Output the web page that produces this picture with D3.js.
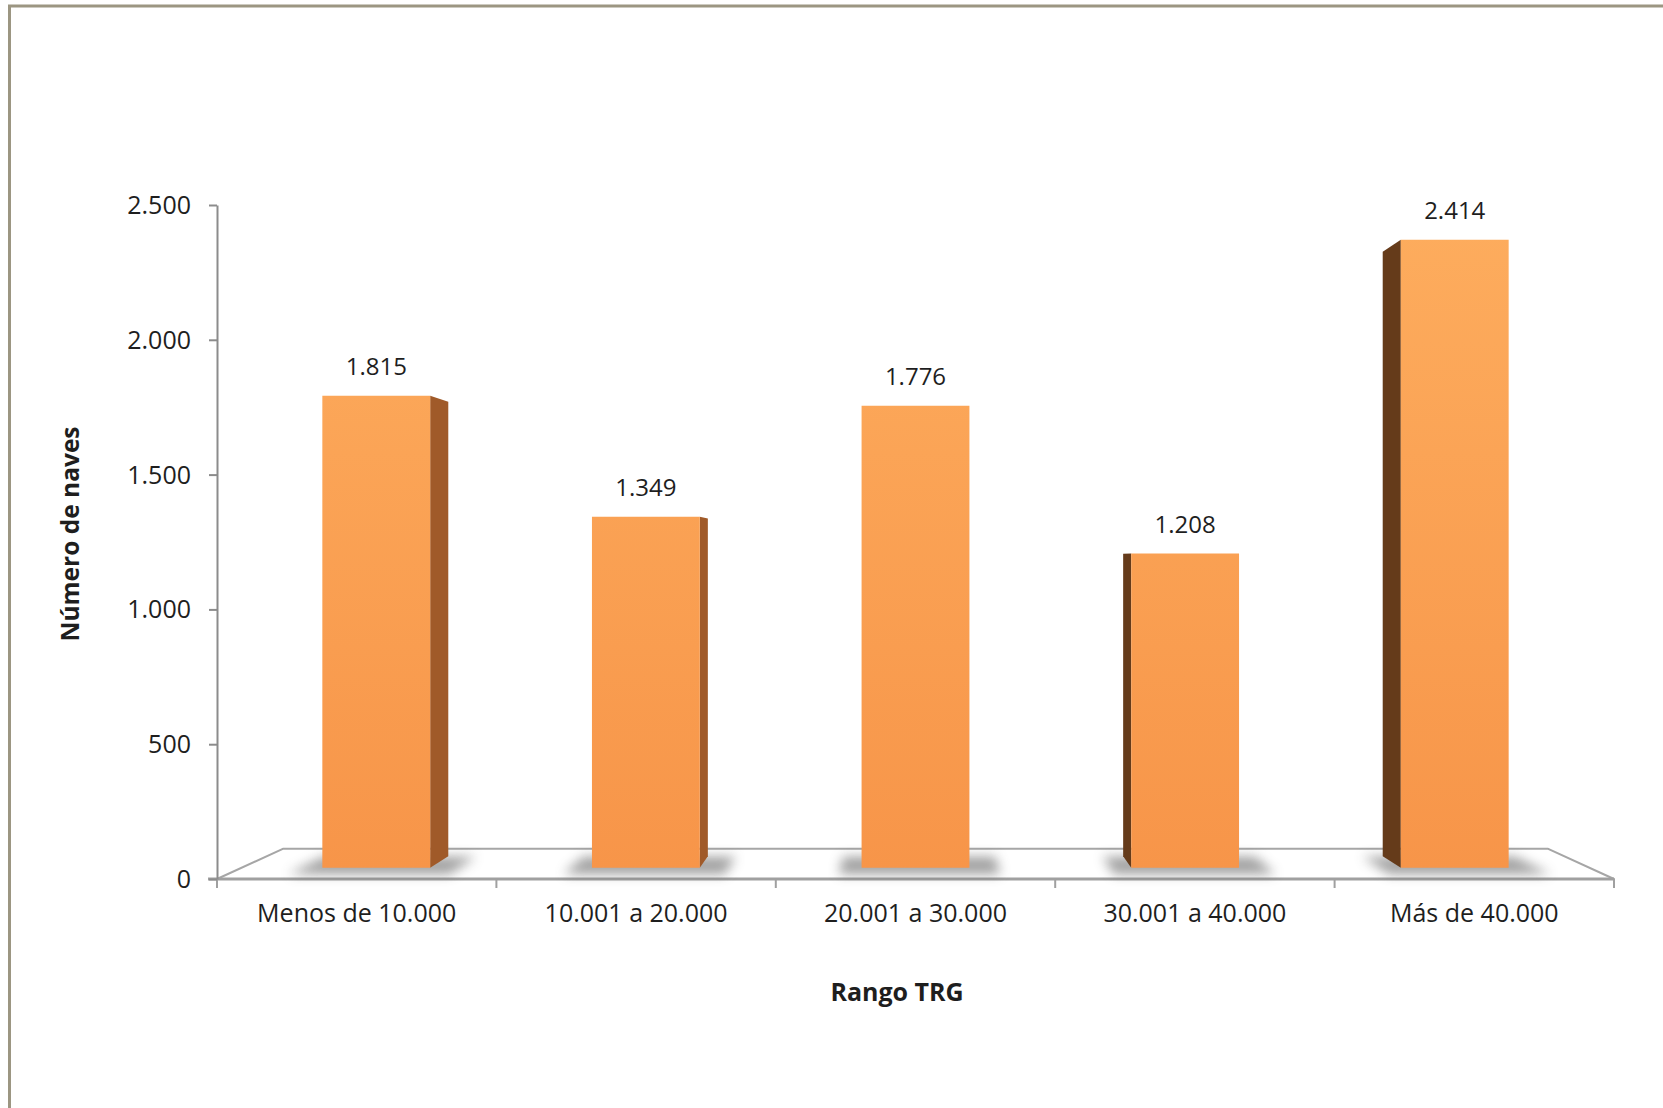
<!DOCTYPE html>
<html>
<head>
<meta charset="utf-8">
<script src="https://cdn.jsdelivr.net/npm/d3@7"></script>
<style>
  html, body { margin: 0; padding: 0; background: #ffffff; overflow: hidden; }
  svg { display: block; }
  text { font-family: "Open Sans", "DejaVu Sans", sans-serif; fill: #1e1e1e; }
</style>
</head>
<body>
<svg id="chart" width="1663" height="1108"></svg>
<script>
// ---- data ----
const categories = ["Menos de 10.000", "10.001 a 20.000", "20.001 a 30.000", "30.001 a 40.000", "Más de 40.000"];
const values = [1815, 1349, 1776, 1208, 2414];
const yTicks = [0, 500, 1000, 1500, 2000, 2500];
const yTitle = "Número de naves";
const xTitle = "Rango TRG";

// ---- setup ----
const svg = d3.select("#chart");
const W = 1663, H = 1108;
const esLocale = d3.formatLocale({ decimal: ",", thousands: ".", grouping: [3], currency: ["", " €"] });
const fmt = esLocale.format(",d");

// outer frame
svg.append("rect")
  .attr("x", 9.5).attr("y", 6).attr("width", W + 20).attr("height", H + 20)
  .attr("fill", "none").attr("stroke", "#9c9682").attr("stroke-width", 3);

const x = d3.scaleBand().domain(categories).range([217, 1614]).paddingInner(0.6).paddingOuter(0.3);
const y = d3.scaleLinear().domain([0, 2500]).range([879, 205]);

// simple perspective projection toward a vanishing point
const VP = [(x.range()[0] + x.range()[1]) / 2, 560];
const S_BAR_FRONT = 0.965, S_BAR_BACK = 0.929, S_FLOOR_BACK = 0.905;
const proj = (xw, yw, s) => [VP[0] + (xw - VP[0]) * s, VP[1] + (yw - VP[1]) * s];
const poly = pts => pts.map(p => p.join(",")).join(" ");

const defs = svg.append("defs");
const grad = defs.append("linearGradient").attr("id", "frontGrad")
  .attr("gradientUnits", "userSpaceOnUse").attr("x1", 0).attr("x2", 0).attr("y1", 230).attr("y2", 870);
grad.append("stop").attr("offset", "0%").attr("stop-color", "#fdac5d");
grad.append("stop").attr("offset", "100%").attr("stop-color", "#f79549");
defs.append("filter").attr("id", "blur").attr("x", "-50%").attr("y", "-100%").attr("width", "200%").attr("height", "300%")
  .append("feGaussianBlur").attr("stdDeviation", 6);

// floor
const x0 = x.range()[0], x1 = x.range()[1], y0 = y(0);
const floorPts = [proj(x0, y0, 1), proj(x1, y0, 1), proj(x1, y0, S_FLOOR_BACK), proj(x0, y0, S_FLOOR_BACK)];
svg.append("polygon").attr("points", poly(floorPts))
  .attr("fill", "#ffffff").attr("stroke", "#a6a6a6").attr("stroke-width", 2).attr("stroke-linejoin", "round");
svg.append("line").attr("x1", 208).attr("x2", x1).attr("y1", y0).attr("y2", y0)
  .attr("stroke", "#a0a0a0").attr("stroke-width", 3);

// x-axis boundary ticks
const step = x.step();
const bounds = d3.range(categories.length + 1).map(i => x0 + i * step);
svg.selectAll("line.xtick").data(bounds).join("line").attr("class", "xtick")
  .attr("x1", d => d).attr("x2", d => d).attr("y1", y0).attr("y2", y0 + 9)
  .attr("stroke", "#a0a0a0").attr("stroke-width", 2);

// y axis
const yAxis = svg.append("g").attr("transform", `translate(${x0},0)`)
  .call(d3.axisLeft(y).tickValues(yTicks).tickFormat(fmt).tickSize(8).tickSizeOuter(0).tickPadding(18));
yAxis.select(".domain").attr("stroke", "#8c8c8c").attr("stroke-width", 2);
yAxis.selectAll(".tick line").attr("stroke", "#8c8c8c").attr("stroke-width", 2);
yAxis.selectAll(".tick text").attr("font-size", 25).attr("font-family", "Open Sans").attr("fill", "#1e1e1e")
  .attr("dy", "0.34em");

// bars
const bw = x.bandwidth();
const bars = svg.append("g");
categories.forEach((c, i) => {
  const xl = x(c), xr = xl + bw, yt = y(values[i]), yb = y(0);
  const g = bars.append("g");
  // shadow on floor
  const shPts = [proj(xl - 22, yb, 0.985), proj(xr + 30, yb, 0.985), proj(xr + 30, yb, 0.93), proj(xl - 22, yb, 0.93)];
  g.append("polygon").attr("points", poly(shPts)).attr("fill", "#555").attr("opacity", 0.55).attr("filter", "url(#blur)");
  const fl = proj(xl, yt, S_BAR_FRONT), fr = proj(xr, yt, S_BAR_FRONT);
  const flb = proj(xl, yb, S_BAR_FRONT), frb = proj(xr, yb, S_BAR_FRONT);
  const bl = proj(xl, yt, S_BAR_BACK), br = proj(xr, yt, S_BAR_BACK);
  const blb = proj(xl, yb, S_BAR_BACK), brb = proj(xr, yb, S_BAR_BACK);
  // side face (the one turned toward the viewer)
  if (xr < VP[0]) {
    g.append("polygon").attr("points", poly([fr, br, brb, frb])).attr("fill", "#a05a29");
  } else if (xl > VP[0]) {
    g.append("polygon").attr("points", poly([fl, bl, blb, flb])).attr("fill", "#653b1a");
  }
  // top face only when below eye level
  if (fl[1] > VP[1]) {
    g.append("polygon").attr("points", poly([fl, fr, br, bl])).attr("fill", "#fdb36a");
  }
  // front face
  g.append("polygon").attr("points", poly([fl, fr, frb, flb])).attr("fill", "url(#frontGrad)");
  // value label
  g.append("text").attr("x", (fl[0] + fr[0]) / 2).attr("y", fl[1] - 21)
    .attr("text-anchor", "middle").attr("font-size", 24).text(fmt(values[i]));
});

// category labels
svg.selectAll("text.cat").data(categories).join("text").attr("class", "cat")
  .attr("x", d => x(d) + bw / 2).attr("y", 922)
  .attr("text-anchor", "middle").attr("font-size", 25).text(d => d);

// axis titles
svg.append("text").attr("transform", "translate(79,534) rotate(-90)")
  .attr("text-anchor", "middle").attr("font-size", 24.5).attr("font-weight", "bold").text(yTitle);
svg.append("text").attr("x", 897).attr("y", 1001)
  .attr("text-anchor", "middle").attr("font-size", 25).attr("font-weight", "bold").text(xTitle);
</script>
</body>
</html>
